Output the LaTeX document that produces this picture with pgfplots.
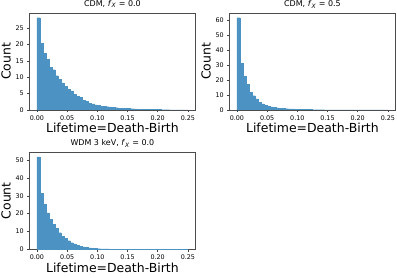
\documentclass[border=0pt]{standalone}
\usepackage{pgfplots}
\pgfplotsset{compat=1.18}
\usepackage{fontspec}
\setmainfont{DejaVu Sans}
\definecolor{c0}{RGB}{31,119,180}
\pgfplotsset{myax/.style={
  scale only axis, width=166bp, height=97bp, anchor=south west,
  xmin=-0.0125, xmax=0.2625, ymin=0,
  xtick={0,0.05,0.10,0.15,0.20,0.25},
  xticklabels={0.00,0.05,0.10,0.15,0.20,0.25},
  tick label style={font=\fontsize{6.4}{7}\selectfont},
  /pgf/number format/assume math mode=true,
  tick align=outside, tick pos=left, major tick length=2.2bp,
  every tick/.style={black!75, line width=0.4bp},
  axis line style={black!70, line width=0.5bp},
  xlabel={Lifetime=Death-Birth}, ylabel={Count},
  label style={font=\fontsize{12.5}{13}\selectfont},
  xlabel style={yshift=4bp},
  ylabel style={yshift=-2bp},
  title style={font=\fontsize{8}{9}\selectfont, yshift=-4.5bp},
},
hbar/.style={ybar interval, fill=c0, fill opacity=0.8, draw=c0!80, line width=0.15bp}}
\begin{document}
\begin{tikzpicture}
\path[use as bounding box] (0bp,0bp) rectangle (397bp,278bp);
\begin{axis}[myax, at={(29.4bp,168bp)}, ymax=29.6, ytick={0,5,10,15,20,25},
  title={CDM, \textit{f}\textsubscript{\textit{X}} = 0.0}]
\addplot[hbar] coordinates {
(0.000,28.2)(0.005,20.4)(0.010,17.3)(0.015,15.4)(0.020,13.0)(0.025,12.3)(0.030,10.5)(0.035,9.3)(0.040,8.3)(0.045,7.2)
(0.050,6.3)(0.055,5.8)(0.060,4.8)(0.065,4.1)(0.070,3.8)(0.075,3.0)(0.080,2.6)(0.085,2.1)(0.090,1.9)(0.095,1.6)
(0.100,1.4)(0.105,1.2)(0.110,1.1)(0.115,1.0)(0.120,0.9)(0.125,0.8)(0.130,0.7)(0.135,0.6)(0.140,0.55)(0.145,0.5)
(0.150,0.45)(0.155,0.4)(0.160,0.35)(0.165,0.3)(0.170,0.28)(0.175,0.25)(0.180,0.22)(0.185,0.2)(0.190,0.17)(0.195,0.15)
(0.200,0.13)(0.205,0.11)(0.210,0.1)(0.215,0.08)(0.220,0.07)(0.225,0.06)(0.230,0.05)(0.235,0.04)(0.240,0.03)(0.245,0.02)
(0.250,0)};
\end{axis}
\begin{axis}[myax, at={(229.4bp,168bp)}, ymax=64.6, ytick={0,10,20,30,40,50,60},
  title={CDM, \textit{f}\textsubscript{\textit{X}} = 0.5}]
\addplot[hbar] coordinates {
(0.000,61.5)(0.005,31.2)(0.010,22.3)(0.015,17.0)(0.020,11.8)(0.025,9.6)(0.030,7.4)(0.035,5.2)(0.040,4.0)(0.045,3.1)
(0.050,2.5)(0.055,2.0)(0.060,1.7)(0.065,1.4)(0.070,1.2)(0.075,1.0)(0.080,0.9)(0.085,0.8)(0.090,0.7)(0.095,0.6)
(0.100,0.5)(0.105,0.45)(0.110,0.4)(0.115,0.35)(0.120,0.3)(0.125,0.27)(0.130,0.24)(0.135,0.21)(0.140,0.18)(0.145,0.15)
(0.150,0.13)(0.155,0.11)(0.160,0.1)(0.165,0.08)(0.170,0.07)(0.175,0.06)(0.180,0.05)(0.185,0.04)(0.190,0.03)(0.195,0.03)
(0.200,0.02)(0.205,0.02)(0.210,0.01)(0.215,0.01)(0.220,0.01)(0.225,0.01)(0.230,0)(0.235,0)(0.240,0)(0.245,0)
(0.250,0)};
\end{axis}
\begin{axis}[myax, at={(29.4bp,28.7bp)}, ymax=54.3, ytick={0,10,20,30,40,50},
  title={WDM 3 keV, \textit{f}\textsubscript{\textit{X}} = 0.0}]
\addplot[hbar] coordinates {
(0.000,51.8)(0.005,31.5)(0.010,25.2)(0.015,20.4)(0.020,16.7)(0.025,14.1)(0.030,11.7)(0.035,9.3)(0.040,7.4)(0.045,6.1)
(0.050,4.8)(0.055,3.7)(0.060,3.0)(0.065,2.2)(0.070,1.7)(0.075,1.3)(0.080,1.0)(0.085,0.8)(0.090,0.6)(0.095,0.5)
(0.100,0.4)(0.105,0.3)(0.110,0.25)(0.115,0.2)(0.120,0.15)(0.125,0.12)(0.130,0.1)(0.135,0.08)(0.140,0.06)(0.145,0.05)
(0.150,0.04)(0.155,0.03)(0.160,0.02)(0.165,0.02)(0.170,0.01)(0.175,0.01)(0.180,0)(0.185,0)(0.190,0)(0.195,0)
(0.200,0)(0.205,0)(0.210,0)(0.215,0)(0.220,0)(0.225,0)(0.230,0)(0.235,0)(0.240,0)(0.245,0)
(0.250,0)};
\end{axis}
\end{tikzpicture}
\end{document}
